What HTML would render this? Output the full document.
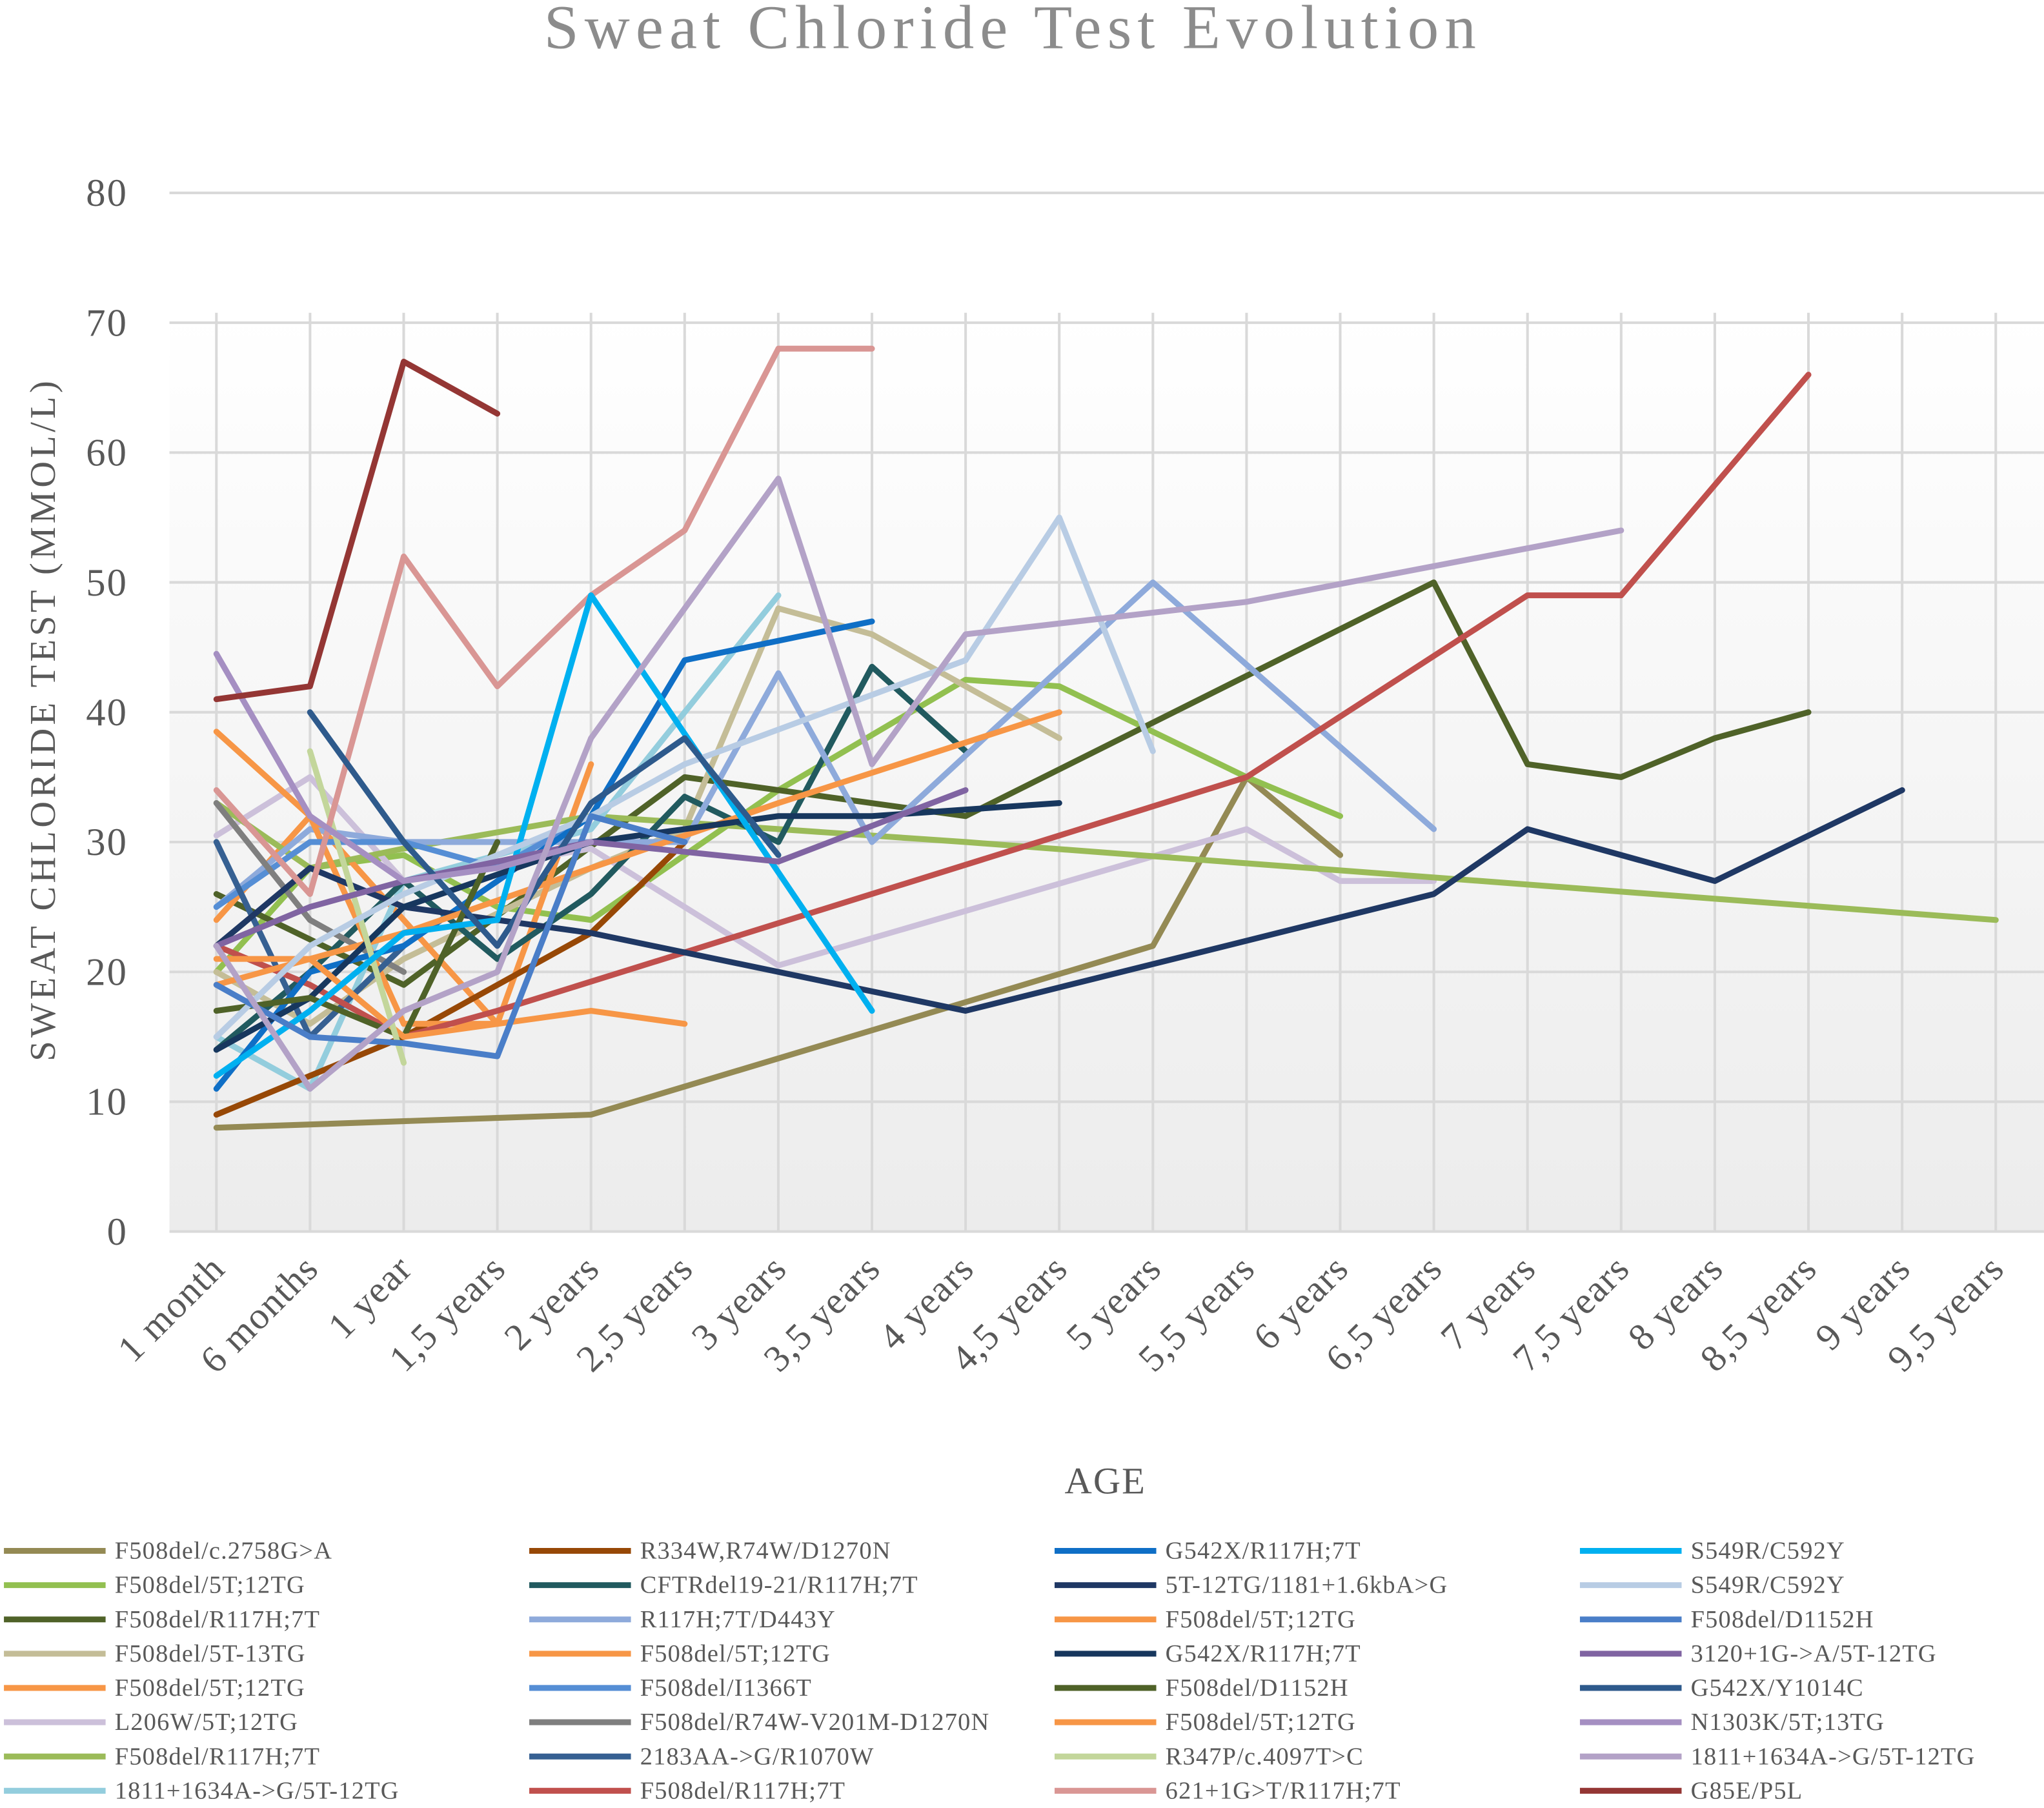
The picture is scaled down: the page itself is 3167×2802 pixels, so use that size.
<!DOCTYPE html>
<html><head><meta charset="utf-8"><style>
html,body{margin:0;padding:0;background:#fff;}
svg{display:block;font-family:"Liberation Serif",serif;}
</style></head><body>
<svg id="chart" width="3167" height="2802" viewBox="0 0 1568 1387.3" xmlns="http://www.w3.org/2000/svg">
<defs><linearGradient id="bg" x1="0" y1="0" x2="0" y2="1"><stop offset="0" stop-color="#ffffff"/><stop offset="1" stop-color="#ececec"/></linearGradient></defs>
<text x="777" y="37" text-anchor="middle" font-size="48" letter-spacing="4.5" fill="#8c8c8c">Sweat Chloride Test Evolution</text>
<rect x="130" y="240" width="1438" height="705" fill="url(#bg)"/>
<g id="grid"></g>
<g id="series"></g>
<g id="xlabels"></g>
<g id="ylabels"></g>
<text transform="translate(42,552) rotate(-90)" text-anchor="middle" font-size="28" letter-spacing="2.6" fill="#595959">SWEAT CHLORIDE TEST (MMOL/L)</text>
<text x="848" y="1146" text-anchor="middle" font-size="29" letter-spacing="1" fill="#595959">AGE</text>
<g id="legend"></g>
</svg>
<script>
const categories=["1 month","6 months","1 year","1,5 years","2 years","2,5 years","3 years","3,5 years","4 years","4,5 years","5 years","5,5 years","6 years","6,5 years","7 years","7,5 years","8 years","8,5 years","9 years","9,5 years"];
const yTicks=[0,10,20,30,40,50,60,70,80];
const seriesNames=["F508del/c.2758G>A","F508del/5T;12TG","F508del/R117H;7T","F508del/5T-13TG","F508del/5T;12TG","L206W/5T;12TG","F508del/R117H;7T","1811+1634A->G/5T-12TG",
"R334W,R74W/D1270N","CFTRdel19-21/R117H;7T","R117H;7T/D443Y","F508del/5T;12TG","F508del/I1366T","F508del/R74W-V201M-D1270N","2183AA->G/R1070W","F508del/R117H;7T",
"G542X/R117H;7T","5T-12TG/1181+1.6kbA>G","F508del/5T;12TG","G542X/R117H;7T","F508del/D1152H","F508del/5T;12TG","R347P/c.4097T>C","621+1G>T/R117H;7T",
"S549R/C592Y","S549R/C592Y","F508del/D1152H","3120+1G->A/5T-12TG","G542X/Y1014C","N1303K/5T;13TG","1811+1634A->G/5T-12TG","G85E/P5L"];
const seriesColors=["#948a54","#92c050","#4f6228","#c4bd97","#f79646","#ccc0da","#9bbb59","#93cddd",
"#974806","#215a5f","#8eaadb","#f79646","#558ed5","#7f7f7f","#366092","#c0504d",
"#0f6fc6","#1f3864","#f79646","#17375e","#4f6228","#f79646","#c3d69b","#d99694",
"#00b0f0","#b8cce4","#4a7ec8","#8064a2","#2e5a8c","#a58fc2","#b3a2c7","#943634"];
const N=null;
const seriesValues=[
[8,N,N,N,9,N,N,N,N,N,22,35,29,N,N,N,N,N,N,N],
[20,28,29,25,24,N,34,N,42.5,42,N,35,32,N,N,N,N,N,N,N],
[26,N,19,N,N,35,N,N,32,N,N,N,N,50,36,35,38,40,N,N],
[20,16,21,N,28,31,48,46,N,38,N,N,N,N,N,N,N,N,N,N],
[24,32,24,16,36,N,N,N,N,N,N,N,N,N,N,N,N,N,N,N],
[30.5,35,27,N,29.5,N,20.5,N,N,N,N,31,27,27,N,N,N,N,N,N],
[33,28,29.5,N,32,N,31,N,30,N,N,N,N,N,N,N,N,N,N,24],
[15,11,27,N,31,40,49,N,N,N,N,N,N,N,N,N,N,N,N,N],
[9,N,15,N,23,30,N,N,N,N,N,N,N,N,N,N,N,N,N,N],
[14,20,27,21,26,33.5,30,43.5,37,N,N,N,N,N,N,N,N,N,N,N],
[25,31,30,N,N,30,43,30,N,N,50,N,N,31,N,N,N,N,N,N],
[38.5,32,16,16,17,16,N,N,N,N,N,N,N,N,N,N,N,N,N,N],
[25,30,30,28,32,30,N,N,N,N,N,N,N,N,N,N,N,N,N,N],
[33,24,20,N,N,N,N,N,N,N,N,N,N,N,N,N,N,N,N,N],
[30,15,22,N,N,N,N,N,N,N,N,N,N,N,N,N,N,N,N,N],
[22,19,15,17,N,N,N,N,N,N,N,35,N,N,49,49,N,66,N,N],
[11,20,22,N,32,44,N,47,N,N,N,N,N,N,N,N,N,N,N,N],
[22,28,25,N,23,N,N,N,17,N,N,N,N,26,31,N,27,N,34,N],
[19,21,23,N,28,N,33,N,N,40,N,N,N,N,N,N,N,N,N,N],
[14,18,25,N,30,31,32,32,N,33,N,N,N,N,N,N,N,N,N,N],
[17,18,15,30,N,N,N,N,N,N,N,N,N,N,N,N,N,N,N,N],
[21,21,15,16,N,N,N,N,N,N,N,N,N,N,N,N,N,N,N,N],
[N,37,13,N,N,N,N,N,N,N,N,N,N,N,N,N,N,N,N,N],
[34,26,52,42,49,54,68,68,N,N,N,N,N,N,N,N,N,N,N,N],
[12,17,23,24,49,N,N,17,N,N,N,N,N,N,N,N,N,N,N,N],
[15,22,26,N,32,36,N,N,44,55,37,N,N,N,N,N,N,N,N,N],
[19,15,14.5,13.5,32,30,N,N,N,N,N,N,N,N,N,N,N,N,N,N],
[22,25,27,N,30,N,28.5,N,34,N,N,N,N,N,N,N,N,N,N,N],
[N,40,30,22,33,38,29,N,N,N,N,N,N,N,N,N,N,N,N,N],
[44.5,32,27,28,30,N,N,N,N,N,N,N,N,N,N,N,N,N,N,N],
[22,11,17,20,38,N,58,36,46,N,N,48.5,N,N,N,54,N,N,N,N],
[41,42,67,63,N,N,N,N,N,N,N,N,N,N,N,N,N,N,N,N]
];
const NS="http://www.w3.org/2000/svg";
function xS(i){return 166+i*(1531-166)/19;}
function yS(v){return 945-v*(945-148)/80;}
function mk(tag,attrs,parent){const e=document.createElementNS(NS,tag);for(const k in attrs)e.setAttribute(k,attrs[k]);parent.appendChild(e);return e;}
const grid=document.getElementById('grid');
yTicks.forEach(t=>{const l=mk('line',{x1:130,x2:1568,y1:yS(t),y2:yS(t),stroke:'#d9d9d9','stroke-width':2},grid);

});
categories.forEach((c,i)=>{const l=mk('line',{x1:xS(i),x2:xS(i),y1:240,y2:945,stroke:'#d9d9d9','stroke-width':2},grid);

});
const yl=document.getElementById('ylabels');
yTicks.forEach(t=>{const e=mk('text',{x:98,y:yS(t)+10,'text-anchor':'end','font-size':30,'letter-spacing':1,fill:'#595959'},yl);e.textContent=t;

});
const xl=document.getElementById('xlabels');
categories.forEach((c,i)=>{const e=mk('text',{transform:`translate(${xS(i)+8},${975}) rotate(-45)`,'text-anchor':'end','font-size':29,'letter-spacing':0.8,fill:'#595959'},xl);e.textContent=c;

});
const sg=document.getElementById('series');
seriesValues.forEach((vals,s)=>{let d='';vals.forEach((v,i)=>{if(v===null)return;d+=(d?'L':'M')+xS(i).toFixed(1)+','+yS(v).toFixed(1);});
const p=mk('path',{d:d,fill:'none',stroke:seriesColors[s],'stroke-width':4.5,'stroke-linejoin':'round','stroke-linecap':'round'},sg);

});
const lg=document.getElementById('legend');
seriesNames.forEach((n,s)=>{const col=Math.floor(s/8),row=s%8;const x=3+col*403,y=1190+row*26.3;
const g=mk('g',{},lg);


mk('line',{x1:x,x2:x+78,y1:y,y2:y,stroke:seriesColors[s],'stroke-width':4.5},g);
const t=mk('text',{x:x+85,y:y+6,'font-size':19,'letter-spacing':0.6,fill:'#595959'},g);t.textContent=n;});
</script>
</body></html>
